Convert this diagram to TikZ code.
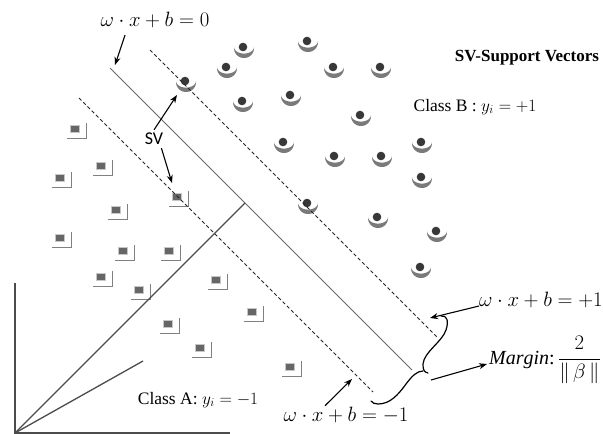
\documentclass[tikz,border=0pt]{standalone}
\usepackage{fontspec}
\setmainfont{Liberation Serif}
\newfontfamily\labelsans{Carlito}
\usetikzlibrary{arrows.meta}

\tikzset{
  arr/.style={-{Stealth[length=8pt,width=6pt]}, line width=1.1pt, black},
  margin line/.style={black!85, line width=1pt, dash pattern=on 3.5pt off 2.5pt},
  hyperplane/.style={black!60, line width=1pt},
  axis line/.style={black!70, line width=1.6pt},
  normal line/.style={black!70, line width=1.3pt},
  bracepath/.style={black, line width=1.2pt, line cap=round},
  mathlbl/.style={font=\fontsize{19.5}{21}\selectfont, inner sep=0pt},
  classlbl/.style={font=\fontsize{17.5}{19}\selectfont, inner sep=0pt},
  % class B sample: dark dot with a shadow crescent below
  classb/.pic={
    \fill[black!52]
      plot[domain=-5.7:185.7, samples=40] ({1+10*cos(\x)},{1+10*sin(\x)})
      -- plot[domain=180:0, samples=40] ({1+9.95*cos(\x)},{6.6*sin(\x)})
      -- cycle;
    \fill[black!78] (0,0) circle (4.3);
  },
  % class A sample: small grey box with an L-shaped shadow
  classa/.pic={
    \fill[black!22] (-5,-4) rectangle (5,4);
    \fill[black!60] (-3.6,-2.6) rectangle (3.6,2.6);
    \draw[black!50, line width=1.4pt] (-8,9.5) -- (11.5,9.5) -- (11.5,-6);
  },
}

\begin{document}
\begin{tikzpicture}[x=1pt,y=-1pt]
\useasboundingbox (0,0) rectangle (603,434);

% samples of the two classes
\foreach \p in {(243,47),(307,41),(226,67),(185,81),(242,101),(290,95),
                (333,67),(380,67),(360,115),(283,142),(334,156),(381,156),
                (421,142),(421,177),(307,203),(377,217),(436,231),(420,267)}
  \pic at \p {classb};
\foreach \p in {(75,129),(101,166),(60,178),(177,197),(116,210),(60,238),
                (123,251),(169,251),(101,277),(139,290),(216,280),(252,312),
                (168,324),(200,348),(290,367)}
  \pic at \p {classa};

% separating hyperplane and the two margin planes
\coordinate (hypA) at (110,68);   \coordinate (hypB) at (412,370);
\coordinate (upA) at (150,50);    \coordinate (upB) at (437,337);
\coordinate (loA) at (79,98);     \coordinate (loB) at (373,392);
\draw[hyperplane] (hypA) -- (hypB);
\draw[margin line] (upA) -- (upB);
\draw[margin line] (loA) -- (loB);

% axes and normal vectors
\coordinate (origin) at (15,433);
\coordinate (yend) at (15,283);
\coordinate (xend) at (230,433);
\coordinate (foot) at (245,203);
\coordinate (shortend) at (143,361);
\draw[axis line] (yend) -- (origin) -- (xend);
\draw[normal line] (origin) -- (foot);
\draw[normal line] (origin) -- (shortend);

% labels
\node[mathlbl] (eqzero) at (155,20) {$\omega\cdot x+b=0$};
\node[mathlbl] (eqplus) at (541,300) {$\omega\cdot x+b=+1$};
\node[mathlbl] (eqminus) at (346,415) {$\omega\cdot x+b=-1$};
\node[font=\labelsans\fontsize{18}{20}\selectfont, inner sep=0pt] (sv) at (154,139) {SV};
\node[font=\bfseries\fontsize{17}{19}\selectfont, inner sep=0pt] (svtitle) at (527,58) {SV-Support Vectors};
\node[classlbl] (clsB) at (475,107) {Class B : $y_i=+1$};
\node[classlbl] (clsA) at (198,400) {Class A: $y_i=-1$};
\node[anchor=base west, inner sep=0pt, font=\fontsize{20}{22}\selectfont] (margin) at (489,364)
  {$\mathit{Margin}$:\,$\displaystyle\frac{2}{\Vert\,\beta\,\Vert}$};

% arrow tips
\coordinate (zeroTip) at (115,65);
\coordinate (svTipB) at (177,95);
\coordinate (svTipA) at (172,183);
\coordinate (plusTip) at (430,318);
\coordinate (minusTip) at (352,379);
\coordinate (braceTip) at (431,380);

\draw[arr] ([xshift=-30pt,yshift=-7pt]eqzero.south) -- (zeroTip);
\draw[arr] ([yshift=3pt]sv.north) -- (svTipB);
\draw[arr] ([xshift=-2pt,yshift=-3pt]sv.south east) -- (svTipA);
\draw[arr] ([yshift=-6pt]eqplus.west) -- (plusTip);
\draw[arr] ([xshift=-21pt,yshift=1pt]eqminus.north) -- (minusTip);
\draw[arr] (braceTip) -- ([xshift=-2pt,yshift=-4pt]margin.west);

% curly brace spanning the margin
\draw[bracepath] (441,316) .. controls (447,315) and (449,321) .. (446,330)
  .. controls (442,342) and (424,352) .. (423,364)
  .. controls (423,370) and (424,372) .. (428,373);
\draw[bracepath] (423,371) .. controls (417,371) and (412,376) .. (406,384)
  .. controls (398,395) and (390,404) .. (378,404)
  .. controls (375,404) and (372,403) .. (371,401);
\end{tikzpicture}
\end{document}
